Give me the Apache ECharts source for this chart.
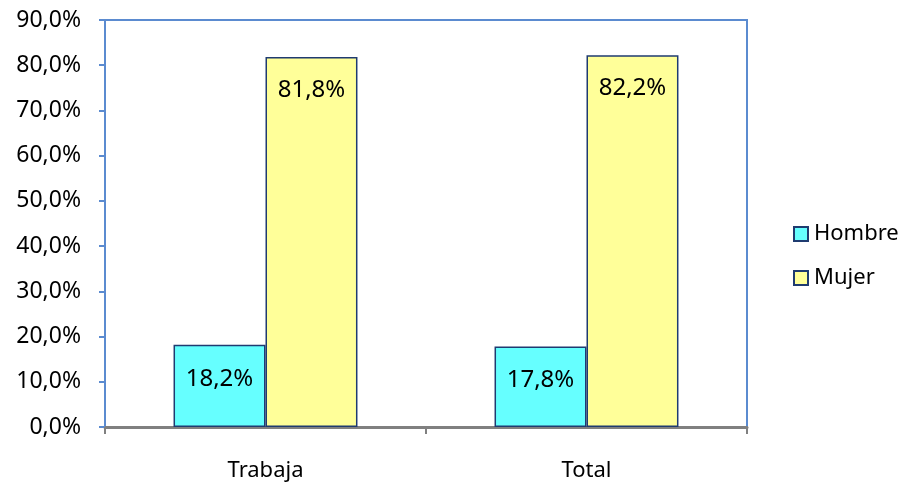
<!DOCTYPE html>
<html>
<head>
<meta charset="utf-8">
<script src="https://cdn.jsdelivr.net/npm/echarts@6/dist/echarts.min.js"></script>
<style>
  html, body { margin: 0; padding: 0; background: #fff; }
  #chart { width: 902px; height: 486px; }
</style>
</head>
<body>
<div id="chart"></div>
<script>
// categorias y valores (%)
var categories = ['Trabaja', 'Total'];
var hombre = [18.2, 17.8];
var mujer = [81.8, 82.2];
var seriesNames = ['Hombre', 'Mujer'];

var font = 'Noto Sans';
function pct(v) {
    return v.toFixed(1).replace('.', ',') + '%';
}

var chart = echarts.init(document.getElementById('chart'));
chart.setOption({
    backgroundColor: '#fff',
    animation: false,
    textStyle: { fontFamily: font },
    grid: {
        left: 105, right: 155, top: 20, bottom: 59,
        show: true, borderColor: '#5b8bd0', borderWidth: 2
    },
    legend: {
        orient: 'vertical',
        left: 788, top: 218,
        itemWidth: 14, itemHeight: 14, itemGap: 22,
        icon: 'rect',
        textStyle: { fontFamily: font, fontSize: 22, color: '#000', padding: [0, 0, 0, 1] },
        data: seriesNames
    },
    xAxis: {
        type: 'category',
        data: categories,
        axisLine: { lineStyle: { color: '#808080', width: 3 } },
        axisTick: { show: true, length: 7, lineStyle: { color: '#808080', width: 2 } },
        axisLabel: { color: '#000', fontSize: 22, margin: 33 }
    },
    yAxis: {
        type: 'value',
        min: 0, max: 90, interval: 10,
        axisLine: { show: true, lineStyle: { color: '#5b8bd0', width: 2 } },
        axisTick: { show: true, length: 6, lineStyle: { color: '#5b8bd0', width: 2 } },
        splitLine: { show: false },
        axisLabel: { color: '#000', fontSize: 23, margin: 24, formatter: function (v) { return pct(v); } }
    },
    series: [
        {
            name: seriesNames[0], type: 'bar', data: hombre,
            barGap: '0%', barCategoryGap: '42.7%',
            itemStyle: { color: '#66ffff', borderColor: '#1f3b70', borderWidth: 1.5 },
            label: { show: true, position: 'insideTop', distance: 22, color: '#000', fontSize: 24,
                formatter: function (p) { return pct(p.value); } }
        },
        {
            name: seriesNames[1], type: 'bar', data: mujer,
            itemStyle: { color: '#ffff99', borderColor: '#1f3b70', borderWidth: 1.5 },
            label: { show: true, position: 'insideTop', distance: 21, color: '#000', fontSize: 24,
                formatter: function (p) { return pct(p.value); } }
        }
    ]
});
</script>
</body>
</html>
